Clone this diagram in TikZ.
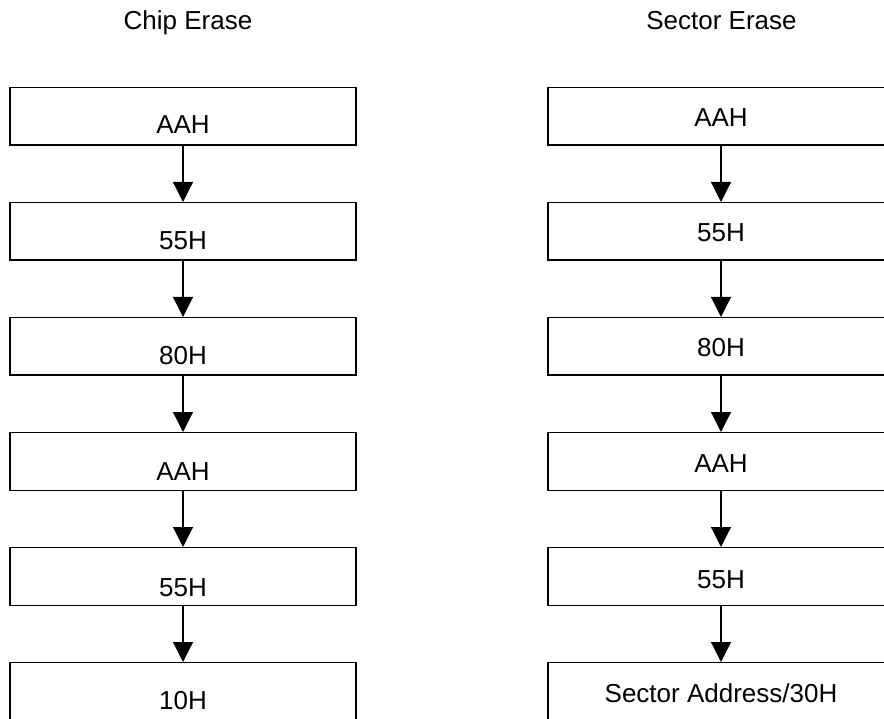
\documentclass[tikz,border=0pt]{standalone}
\usepackage{fontspec}
\setmainfont{Liberation Sans}
\usetikzlibrary{arrows.meta}
\begin{document}
\begin{tikzpicture}[x=1pt,y=-1pt,
  box/.style={draw,line width=1.2pt,minimum width=346pt,minimum height=57.5pt,inner sep=0pt,anchor=north},
  lbl/.style={anchor=base,font=\fontsize{26}{30}\selectfont,inner sep=0pt},
  flow/.style={line width=1.2pt,-{Triangle[length=20pt,width=20pt]}}]
\useasboundingbox (0,0) rectangle (884,719);
\clip (0,0) rectangle (884,719);
% titles
\node[lbl] (t1) at (188,30) {Chip Erase};
\node[lbl] (t2) at (721.5,30) {Sector Erase};
% left column boxes
\node[box] (L1) at (183,87) {};
\node[box] (L2) at (183,202) {};
\node[box] (L3) at (183,317) {};
\node[box] (L4) at (183,432) {};
\node[box] (L5) at (183,547) {};
\node[box] (L6) at (183,662) {};
\node[lbl] (l1) at (183,134) {AAH};
\node[lbl] (l2) at (183,250) {55H};
\node[lbl] (l3) at (183,365) {80H};
\node[lbl] (l4) at (183,480) {AAH};
\node[lbl] (l5) at (183,596) {55H};
\node[lbl] (l6) at (183,709) {10H};
% right column boxes
\node[box] (R1) at (721,87) {};
\node[box] (R2) at (721,202) {};
\node[box] (R3) at (721,317) {};
\node[box] (R4) at (721,432) {};
\node[box] (R5) at (721,547) {};
\node[box] (R6) at (721,662) {};
\node[lbl] (r1) at (721,127) {AAH};
\node[lbl] (r2) at (721,242) {55H};
\node[lbl] (r3) at (721,357) {80H};
\node[lbl] (r4) at (721,472) {AAH};
\node[lbl] (r5) at (721,588) {55H};
\node[lbl] (r6) at (721,702) {Sector Address/30H};
% arrows
\draw[flow] (L1.south) -- (L2.north);
\draw[flow] (L2.south) -- (L3.north);
\draw[flow] (L3.south) -- (L4.north);
\draw[flow] (L4.south) -- (L5.north);
\draw[flow] (L5.south) -- (L6.north);
\draw[flow] (R1.south) -- (R2.north);
\draw[flow] (R2.south) -- (R3.north);
\draw[flow] (R3.south) -- (R4.north);
\draw[flow] (R4.south) -- (R5.north);
\draw[flow] (R5.south) -- (R6.north);
\end{tikzpicture}
\end{document}
